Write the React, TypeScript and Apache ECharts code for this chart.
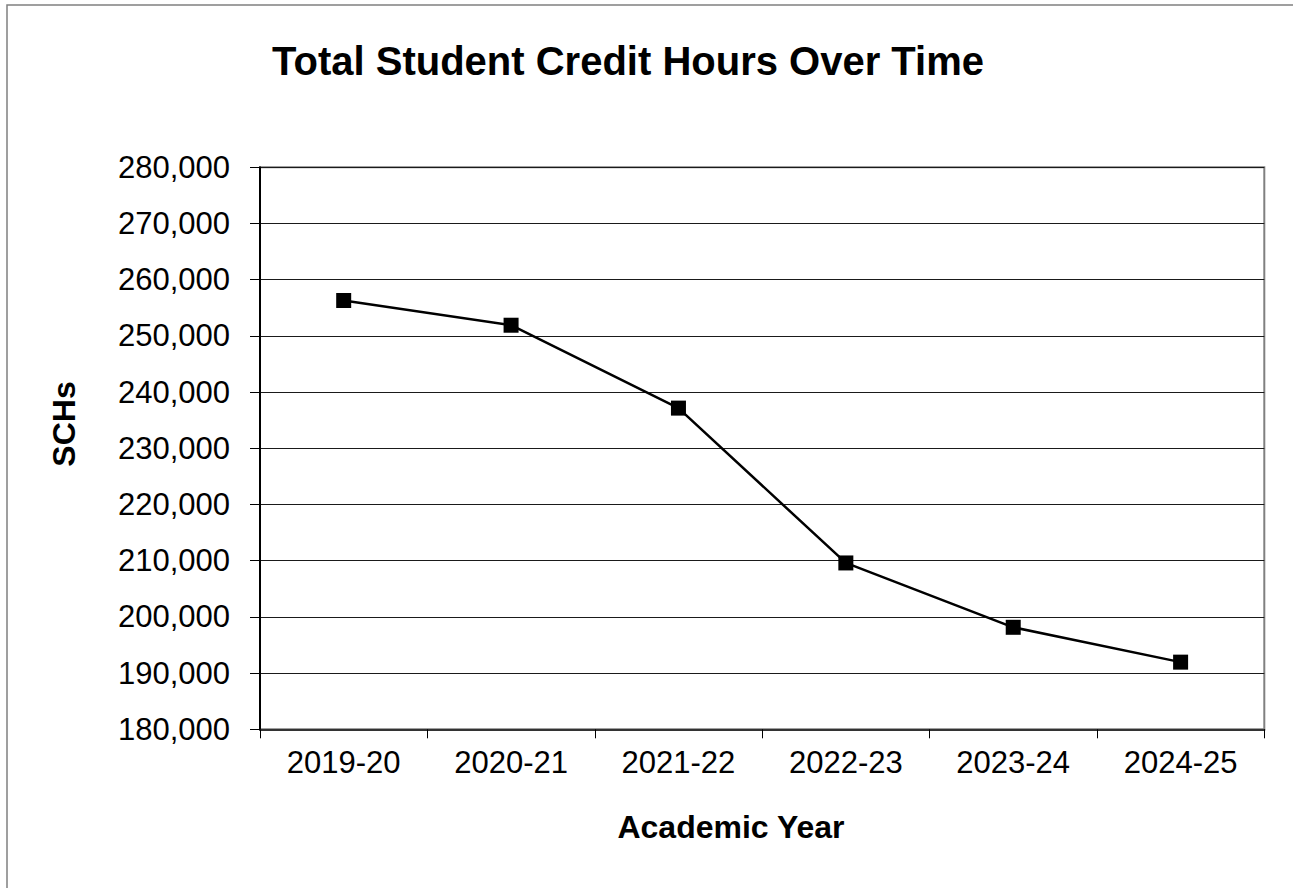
import React, { useEffect, useRef } from "react";
import * as echarts from "echarts";

const categories = ["2019-20", "2020-21", "2021-22", "2022-23", "2023-24", "2024-25"];
const schValues = [256300, 251900, 237150, 209600, 198150, 191950];
const chartTitle = "Total Student Credit Hours Over Time";
const xAxisTitle = "Academic Year";
const yAxisTitle = "SCHs";
const yMin = 180000;
const yMax = 280000;
const yStep = 10000;

const FONT = "'Liberation Sans', Arial, sans-serif";

export default function App() {
  const ref = useRef<HTMLDivElement>(null);
  useEffect(() => {
    if (!ref.current) return;
    const chart = echarts.init(ref.current, null, { renderer: "svg" });
    chart.setOption({
      animation: false,
      backgroundColor: "#ffffff",
      textStyle: { fontFamily: FONT },
      grid: {
        left: 260,
        top: 167.3,
        right: 28.7,
        bottom: 158.7,
        show: true,
        borderColor: "#808080",
        borderWidth: 2,
        backgroundColor: "transparent",
      },
      xAxis: {
        type: "category",
        data: categories,
        boundaryGap: true,
        axisLine: { show: true, lineStyle: { color: "#333", width: 2 } },
        axisTick: { show: true, inside: false, length: 9, alignWithLabel: false, lineStyle: { color: "#000", width: 1 } },
        axisLabel: { color: "#000", fontSize: 31, fontFamily: FONT, margin: 18 },
        splitLine: { show: false },
      },
      yAxis: {
        type: "value",
        min: yMin,
        max: yMax,
        interval: yStep,
        axisLine: { show: true, lineStyle: { color: "#000", width: 2 } },
        axisTick: { show: true, inside: false, length: 10, lineStyle: { color: "#000", width: 1 } },
        axisLabel: {
          color: "#000",
          fontSize: 31,
          fontFamily: FONT,
          margin: 30,
          formatter: (v: number) => v.toLocaleString("en-US"),
        },
        splitLine: { show: true, lineStyle: { color: "#1a1a1a", width: 1.2 } },
      },
      series: [
        {
          type: "line",
          data: schValues,
          symbol: "rect",
          symbolSize: 15,
          lineStyle: { color: "#000", width: 2.5 },
          itemStyle: { color: "#000" },
        },
      ],
      graphic: [
        {
          type: "rect",
          shape: { x: 7, y: 5, width: 1400, height: 1000 },
          style: { fill: "none", stroke: "#808080", lineWidth: 1.5 },
          silent: true,
          z: -1,
        },
        {
          type: "text",
          x: 628,
          y: 61,
          style: {
            text: chartTitle,
            fontSize: 40,
            fontWeight: "bold",
            fontFamily: FONT,
            fill: "#000",
            align: "center",
            verticalAlign: "middle",
          },
        },
        {
          type: "text",
          x: 731,
          y: 827,
          style: {
            text: xAxisTitle,
            fontSize: 32,
            fontWeight: "bold",
            fontFamily: FONT,
            fill: "#000",
            align: "center",
            verticalAlign: "middle",
          },
        },
        {
          type: "text",
          x: 64,
          y: 424,
          rotation: Math.PI / 2,
          style: {
            text: yAxisTitle,
            fontSize: 32,
            fontWeight: "bold",
            fontFamily: FONT,
            fill: "#000",
            align: "center",
            verticalAlign: "middle",
          },
        },
      ],
    });
    return () => chart.dispose();
  }, []);
  return (
    <div
      ref={ref}
      style={{ position: "fixed", left: 0, top: 0, width: 1293, height: 888, background: "#fff" }}
    />
  );
}
